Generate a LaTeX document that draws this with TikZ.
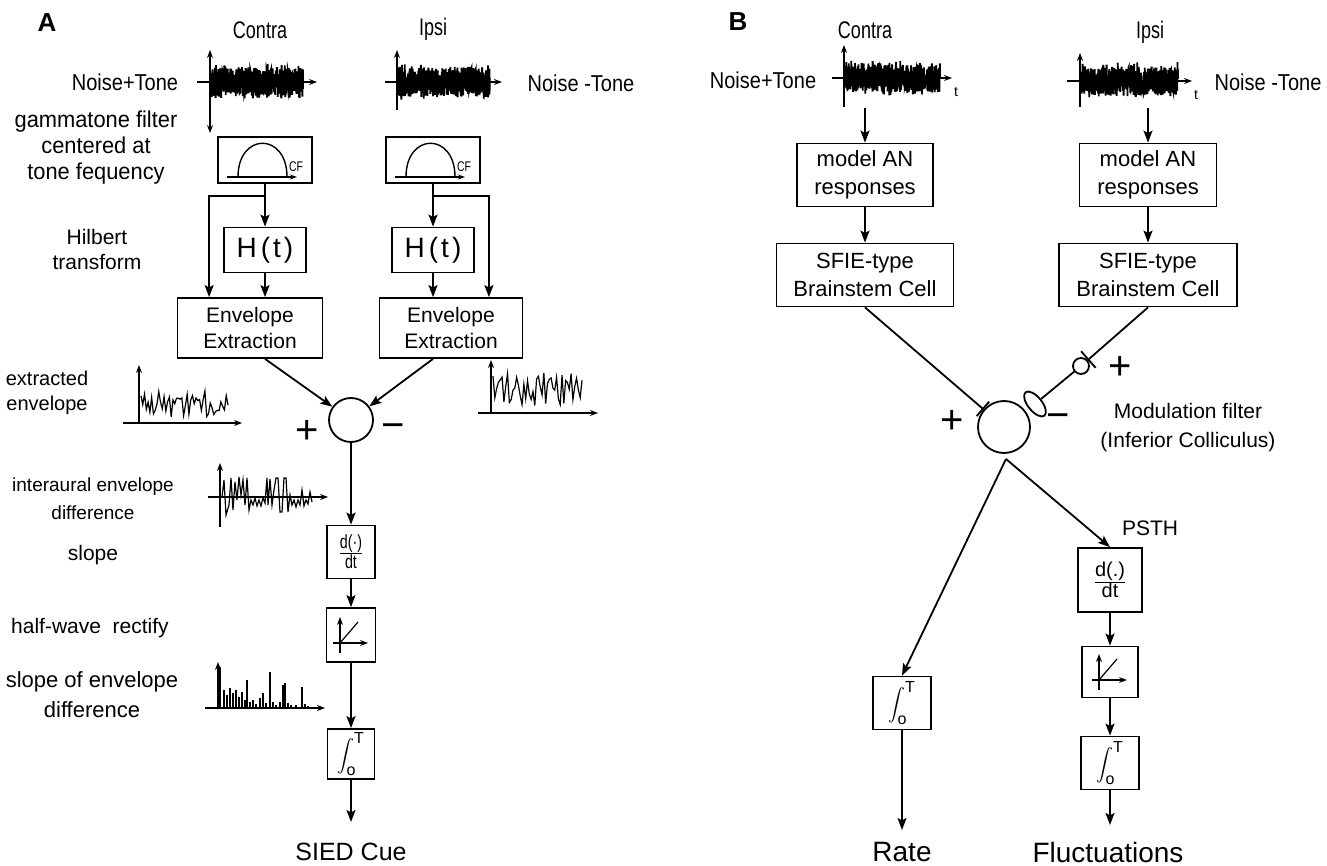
\documentclass[tikz,border=0pt]{standalone}
\usepackage{amsmath}
\usepackage{fontspec}
\setmainfont{Liberation Sans}
\usetikzlibrary{arrows.meta,calc,shapes.geometric}
\newcommand\integralT{{\fontsize{8}{8}\selectfont$\displaystyle\int\nolimits^{\mbox{T}}_{\mbox{o}}$}}
\begin{document}
\begin{tikzpicture}[x=0.5pt,y=-0.5pt,line width=0.9pt]
\tikzstyle{caja}=[draw,line width=0.9pt,inner sep=0pt,align=center,font=\fontsize{10.5}{13}\selectfont]% cajas del esquema
\tikzstyle{flecha}=[-{Stealth[length=6pt,width=4.5pt,inset=1.2pt]},line width=0.9pt]% conexiones entre cajas
\tikzstyle{eje}=[-{Stealth[length=4pt,width=3pt]},line width=0.6pt]% ejes de las graficas
\tikzstyle{texto}=[inner sep=0pt,align=center,font=\fontsize{10.5}{13}\selectfont]
\tikzstyle{suma}=[draw,circle,line width=0.9pt,inner sep=0pt]
\tikzstyle{signo}=[inner sep=0pt,font=\fontsize{20}{20}\selectfont]
\tikzstyle{ruido}=[line width=0.9pt]% senal de ruido
\useasboundingbox (0,0) rectangle (1327,866);
\pgfmathsetseed{12}
%%%%%%%% panel A
\node[font=\bfseries\fontsize{13}{15}\selectfont] (letA) at (47,23) {A};
\node[texto,font=\fontsize{12}{14}\selectfont] (contraA) at (260,30) {\scalebox{0.75}[1]{Contra}};
\node[texto,font=\fontsize{12}{14}\selectfont] (ipsiA) at (433,29) {\scalebox{0.75}[1]{Ipsi}};
\node[texto,font=\fontsize{11.5}{13}\selectfont] (ntA) at (125,82) {\scalebox{0.87}[1]{Noise+Tone}};
\node[texto,font=\fontsize{11.5}{13}\selectfont] (nmtA) at (581,83) {\scalebox{0.87}[1]{Noise -Tone}};
\node[texto,font=\fontsize{11.5}{13}\selectfont] (gammaA) at (96,148) {\scalebox{0.95}[1]{gammatone filter}\\\scalebox{0.95}[1]{centered at}\\\scalebox{0.95}[1]{tone fequency}};
\node[texto,font=\fontsize{10.5}{12.5}\selectfont] (hilbA) at (97,249) {Hilbert\\transform};
\node[texto,font=\fontsize{10}{12.5}\selectfont] (extA) at (47,393) {extracted\\envelope};
\node[texto,font=\fontsize{9.5}{14}\selectfont] (iedA) at (93,499) {interaural envelope\\difference};
\node[texto] (slA) at (93,555) {slope};
\node[texto] (hwA) at (90,628) {half-wave\ \ rectify};
\node[texto,font=\fontsize{11}{15}\selectfont] (soA) at (92,695) {slope of envelope\\difference};
% senales de entrada
\draw[{Stealth[length=4pt,width=3pt]}-{Stealth[length=4pt,width=3pt]},line width=0.6pt] (210,133) -- (210,50);
\draw[eje] (197,82) -- (317,82);
\draw[ruido] plot[domain=211:303,samples=600] (\x,{82+14*rand+6*rand*rand});
\draw[eje] (397,110) -- (397,50);
\draw[eje] (385,82) -- (502,82);
\draw[ruido] plot[domain=398:490,samples=600] (\x,{82+14*rand+6*rand*rand});
% filtros y envolvente
\node[caja,minimum width=47pt,minimum height=23pt] (filtA1) at (265,160) {};
\node[caja,minimum width=47pt,minimum height=23pt] (filtA2) at (433,160) {};
\foreach \f in {filtA1,filtA2}{
\begin{scope}[shift={(\f.center)}]
\draw[line width=0.6pt,-{Stealth[length=3.5pt,width=2.5pt]}] (-38,17) -- (32,17);
\draw[line width=0.7pt] (-27,17) .. controls (-27,-28) and (22,-28) .. (22,17);
\node[texto,font=\fontsize{7}{7}\selectfont] (cf\f) at (31,7) {\scalebox{0.75}[1]{CF}};
\end{scope}}
\node[caja,minimum width=41pt,minimum height=22.5pt,font=\fontsize{14}{15}\selectfont] (hA1) at (265,250) {H\kern2pt(\kern1.5pt t\kern1.5pt)};
\node[caja,minimum width=41pt,minimum height=22.5pt,font=\fontsize{14}{15}\selectfont] (hA2) at (433,250) {H\kern2pt(\kern1.5pt t\kern1.5pt)};
\node[caja,minimum width=72.5pt,minimum height=30pt] (envA1) at (250,328) {Envelope\\Extraction};
\node[caja,minimum width=71.5pt,minimum height=30pt] (envA2) at (451,328) {Envelope\\Extraction};
\coordinate (brA1) at ($(filtA1.south)+(0,12)$);
\coordinate (brA2) at ($(filtA2.south)+(0,12)$);
\draw (filtA1.south) -- (brA1);
\draw (filtA2.south) -- (brA2);
\draw[flecha] (brA1) -- (hA1.north);
\draw[flecha] (brA2) -- (hA2.north);
\draw[flecha] (brA1) -| ($(envA1.north west)+(32.5,0)$);
\draw[flecha] (brA2) -| ($(envA2.north east)+(-34.5,0)$);
\draw[flecha] (hA1.south) -- (hA1.south |- envA1.north);
\draw[flecha] (hA2.south) -- (hA2.south |- envA2.north);
% restador
\node[suma,minimum size=22pt] (sumA) at (351,420) {};
\node[signo] (masA) at (307,432) {+};
\node[signo] (menosA) at (393,431) {−};
\draw[flecha] (hA1.south |- envA1.south) -- (sumA);
\draw[flecha] (hA2.south |- envA2.south) -- (sumA);
% graficas de envolvente
\draw[eje] (139,423) -- (139,365);
\draw[eje] (123,423) -- (242,423);
\draw[line width=0.6pt] plot[domain=141:228,samples=50] (\x,{404+13*rand});
\draw[eje] (491,413) -- (491,360);
\draw[eje] (478,413) -- (598,413);
\draw[line width=0.6pt] plot[domain=493:582,samples=50] (\x,{390+17*rand});
\draw[eje] (220,527) -- (220,463);
\draw[eje] (208,497) -- (328,497);
\draw[line width=0.6pt] plot coordinates {(222,497) (224,480) (226,515) (229,505) (231,478) (233,510) (235,482) (237,500) (239,477) (241,495) (243,480) (245,505) (247,478) (249,510) (251,500) (253,505) (255,498) (257,506) (259,500) (261,506) (263,498) (265,503) (267,478) (268,505) (270,479) (272,505) (274,490) (276,478) (278,478) (280,512) (282,512) (284,478) (286,478) (288,512) (290,495) (292,505) (294,500) (296,507) (298,500) (300,505) (302,490) (304,506) (306,500) (308,504) (310,492) (312,502)};
\draw[eje] (218,708) -- (218,662);
\draw[eje] (205,708) -- (325,708);
\foreach \px/\py in {220/667,224/690,227/695,230/688,233/693,236/690,239/697,242/692,245/700,247/680,250/702,253/700,256/704,260/698,263/693,266/703,270/672,273/702,276/705,280/702,283/685,285/683,288/703,291/705,296/705,302/687,305/704,308/706}
\draw[line width=0.6pt] (\px,708) -- (\px,\py);
% cadena de salida
\node[caja,minimum width=24pt,minimum height=26.5pt,font=\fontsize{9.5}{10}\selectfont] (dA) at (351,552) {\scalebox{0.75}[1]{$\frac{\mbox{d(·)}}{\mbox{dt}}$}};
\node[caja,minimum width=24.5pt,minimum height=27pt] (rectA) at (351,635) {};
\node[caja,minimum width=23.5pt,minimum height=25pt] (intA) at (351,754) {\integralT};
\coordinate (finA) at (351,822);
\node[texto,font=\fontsize{12.5}{14}\selectfont] (cueA) at (351,852) {SIED Cue};
\draw[flecha] (sumA) -- (dA);
\draw[flecha] (dA) -- (rectA);
\draw[flecha] (rectA) -- (intA);
\draw[flecha] (intA) -- (finA);
%%%%%%%% panel B
\node[font=\bfseries\fontsize{13}{15}\selectfont] (letB) at (738,22) {B};
\node[texto,font=\fontsize{12}{14}\selectfont] (contraB) at (865,30) {\scalebox{0.75}[1]{Contra}};
\node[texto,font=\fontsize{12}{14}\selectfont] (ipsiB) at (1150,32) {\scalebox{0.75}[1]{Ipsi}};
\node[texto,font=\fontsize{11.5}{13}\selectfont] (ntB) at (763,80) {\scalebox{0.87}[1]{Noise+Tone}};
\node[texto,font=\fontsize{11.5}{13}\selectfont] (nmtB) at (1268,82) {\scalebox{0.87}[1]{Noise -Tone}};
\node[texto,font=\fontsize{7}{8}\selectfont] (tB1) at (956,92) {t};
\node[texto,font=\fontsize{7}{8}\selectfont] (tB2) at (1196,95) {t};
\draw[eje] (844,107) -- (844,45);
\draw[eje] (832,78) -- (952,78);
\draw[ruido] plot[domain=845:940,samples=600] (\x,{78+14*rand+6*rand*rand});
\draw[eje] (1080,107) -- (1080,53);
\draw[eje] (1067,81) -- (1192,81);
\draw[ruido] plot[domain=1081:1178,samples=600] (\x,{81+14*rand+6*rand*rand});
\node[caja,minimum width=68pt,minimum height=31.5pt,font=\fontsize{11}{14}\selectfont] (anB1) at (865,175) {model AN\\responses};
\node[caja,minimum width=68.5pt,minimum height=31.5pt,font=\fontsize{11}{14}\selectfont] (anB2) at (1148,175) {model AN\\responses};
\node[caja,minimum width=88.5pt,minimum height=31.5pt,font=\fontsize{11}{14}\selectfont] (sfB1) at (865,275) {SFIE-type\\Brainstem Cell};
\node[caja,minimum width=89pt,minimum height=31.5pt,font=\fontsize{11}{14}\selectfont] (sfB2) at (1148,275) {SFIE-type\\Brainstem Cell};
\coordinate (sB1) at (865,108);
\coordinate (sB2) at (1148,108);
\draw[flecha] (sB1) -- (anB1);
\draw[flecha] (sB2) -- (anB2);
\draw[flecha] (anB1) -- (sfB1);
\draw[flecha] (anB2) -- (sfB2);
% filtro de modulacion
\node[suma,minimum size=26pt] (sumB) at (1004,427) {};
\node[suma,minimum size=8pt] (modC) at (1081,366) {};
\node[ellipse,draw,line width=0.9pt,inner sep=0pt,minimum width=15pt,minimum height=7pt,rotate=129] (modE) at (1035,404) {};
\draw[-{Bar[width=9.5pt]}] (sfB1.south) -- (sumB);
\draw[-{Bar[width=11pt]}] (sfB2.south) -- (modC);
\draw (modC) -- (modE);
\node[signo] (masB1) at (952,422) {+};
\node[signo] (menosB) at (1058,421) {−};
\node[signo] (masB2) at (1120,368) {+};
\node[texto,font=\fontsize{10.5}{14.5}\selectfont] (modB) at (1188,428) {Modulation filter\\(Inferior Colliculus)};
% ramas de salida
\coordinate (vB) at (1006,459);
\node[caja,minimum width=29pt,minimum height=26.5pt] (intB1) at (902,703) {\integralT};
\node[caja,minimum width=32pt,minimum height=32pt,font=\fontsize{10}{12}\selectfont] (dB) at (1110,580) {$\frac{\mbox{d(.)}}{\mbox{dt}}$};
\node[caja,minimum width=28pt,minimum height=25.5pt] (rectB) at (1110,672) {};
\node[caja,minimum width=29pt,minimum height=26.5pt] (intB2) at (1110,763) {\integralT};
\node[texto] (psthB) at (1150,528) {PSTH};
\coordinate (finB1) at (902,830);
\coordinate (finB2) at (1110,825);
\node[texto,font=\fontsize{14}{16}\selectfont] (rateB) at (902,852) {Rate};
\node[texto,font=\fontsize{14}{16}\selectfont] (flucB) at (1108,852) {Fluctuations};
\draw[flecha] (vB) -- (intB1.north);
\draw[flecha] (vB) -- (dB.north);
\draw[flecha] (dB) -- (rectB);
\draw[flecha] (rectB) -- (intB2);
\draw[flecha] (intB1) -- (finB1);
\draw[flecha] (intB2) -- (finB2);
% rectificadores
\foreach \r in {rectA,rectB}{
\begin{scope}[shift={(\r.center)}]
\draw[eje] (-11,18) -- (-11,-18);
\draw[eje] (-18,8) -- (17,8);
\draw[line width=0.6pt] (-11,8) -- (7,-13);
\end{scope}}
\end{tikzpicture}
\end{document}
